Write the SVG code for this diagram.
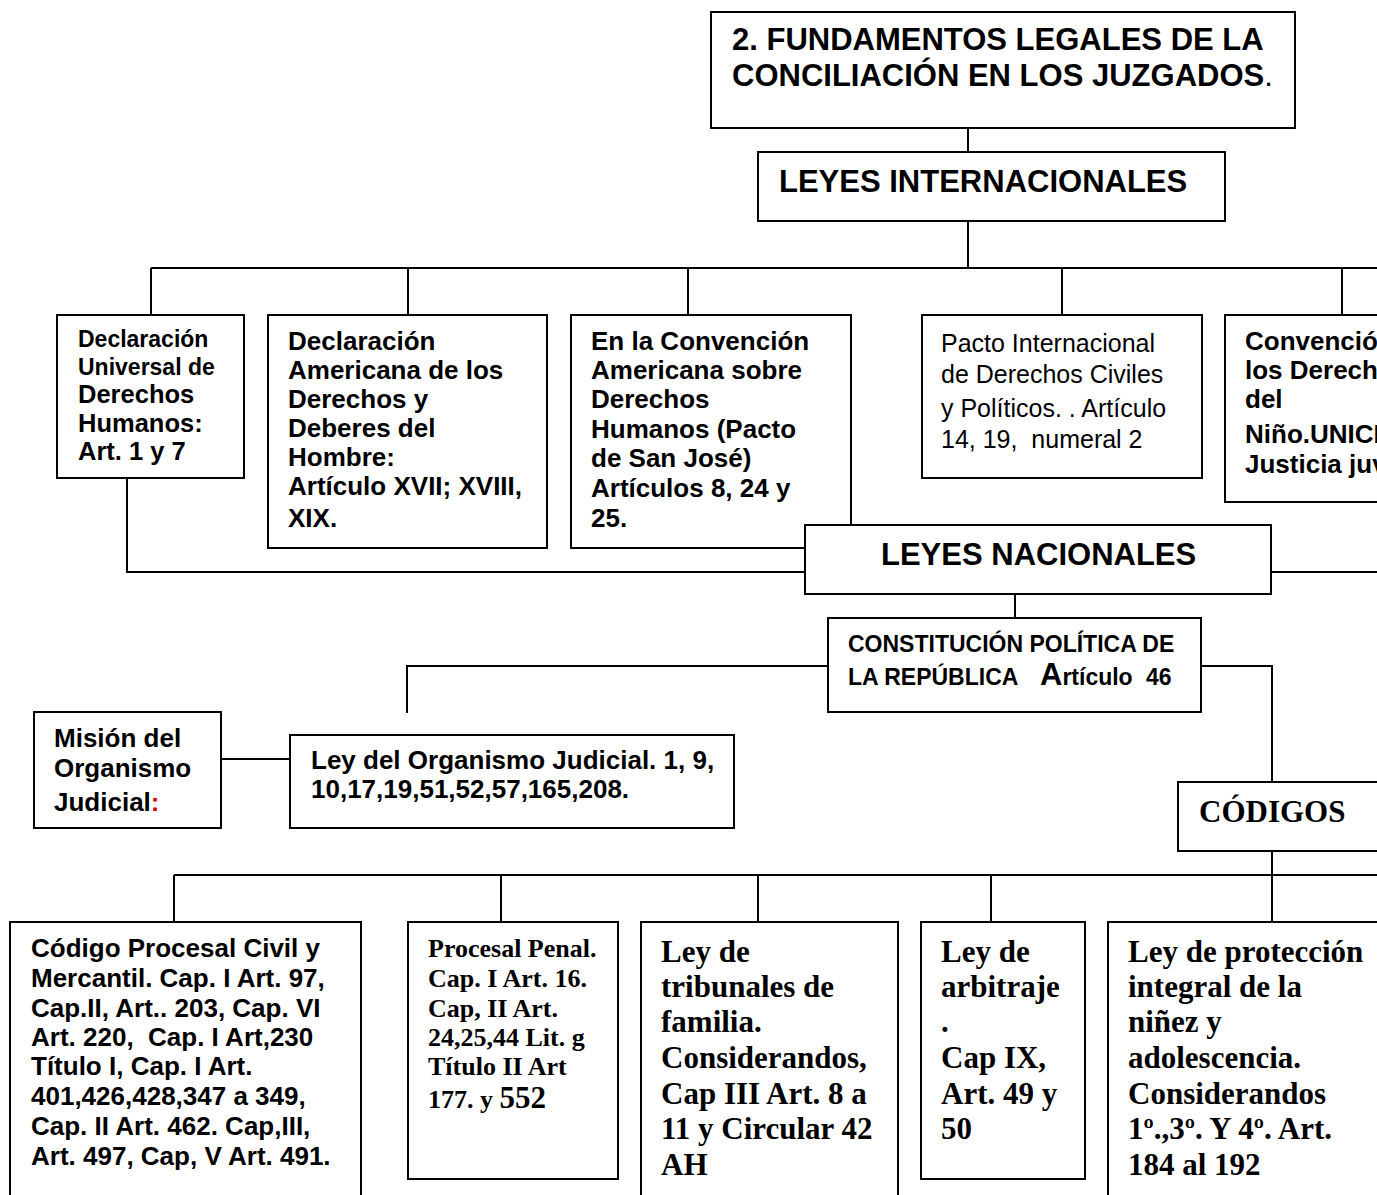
<svg xmlns="http://www.w3.org/2000/svg" width="1377" height="1195" viewBox="0 0 1377 1195">
<style>
text{white-space:pre}
.box{fill:#fff;stroke:#000;stroke-width:2}
.ln{fill:none;stroke:#000;stroke-width:2}
.sb{font-family:"Liberation Sans",Arial,sans-serif;font-weight:bold;fill:#000}
.sr{font-family:"Liberation Sans",Arial,sans-serif;font-weight:normal;fill:#000}
.tb{font-family:"Liberation Serif","Times New Roman",serif;font-weight:bold;fill:#000}
</style>
<rect x="0" y="0" width="1377" height="1195" fill="#fff"/>
<g id="connectors">
<path class="ln" d="M968 128V152"/>
<path class="ln" d="M968 221V268"/>
<path class="ln" d="M151 268H1377"/>
<path class="ln" d="M151 268V315M408 268V315M688 268V315M1062 268V315M1342 268V315"/>
<path class="ln" d="M127 478V572H805"/>
<path class="ln" d="M1271 572H1377"/>
<path class="ln" d="M1015 594V618"/>
<path class="ln" d="M828 666H407V713"/>
<path class="ln" d="M1201 666H1272V782"/>
<path class="ln" d="M221 759H290"/>
<path class="ln" d="M1272 851V875"/>
<path class="ln" d="M174 875H1377"/>
<path class="ln" d="M174 875V922M501 875V922M758 875V922M991 875V922M1272 875V922"/>
</g>
<g id="title">
<rect class="box" x="711" y="12" width="584" height="116"/>
<text class="sb" font-size="31" x="732" y="50">2. FUNDAMENTOS LEGALES DE LA</text>
<text class="sb" font-size="31" x="732" y="86">CONCILIACIÓN EN LOS JUZGADOS<tspan font-weight="normal">.</tspan></text>
</g>
<g id="leyes-internacionales">
<rect class="box" x="758" y="152" width="467" height="69"/>
<text class="sb" font-size="31" x="779" y="192">LEYES INTERNACIONALES</text>
</g>
<g id="declaracion-universal">
<rect class="box" x="57" y="315" width="187" height="163"/>
<text class="sb" font-size="23" x="78"><tspan x="78" y="347">Declaración</tspan><tspan x="78" y="375">Universal de</tspan><tspan x="78" y="403" font-size="25.5">Derechos</tspan><tspan x="78" y="432" font-size="25.5">Humanos:</tspan><tspan x="78" y="460" font-size="25.5">Art. 1 y 7</tspan></text>
</g>
<g id="declaracion-americana">
<rect class="box" x="268" y="315" width="279" height="233"/>
<text class="sb" font-size="26"><tspan x="288" y="350">Declaración</tspan><tspan x="288" y="379">Americana de los</tspan><tspan x="288" y="408">Derechos y</tspan><tspan x="288" y="437">Deberes del</tspan><tspan x="288" y="466">Hombre:</tspan><tspan x="288" y="495">Artículo XVII; XVIII,</tspan><tspan x="288" y="527">XIX.</tspan></text>
</g>
<g id="convencion-americana">
<rect class="box" x="571" y="315" width="280" height="233"/>
<text class="sb" font-size="26"><tspan x="591" y="350">En la Convención</tspan><tspan x="591" y="379">Americana sobre</tspan><tspan x="591" y="408">Derechos</tspan><tspan x="591" y="438">Humanos (Pacto</tspan><tspan x="591" y="467">de San José)</tspan><tspan x="591" y="497">Artículos 8, 24 y</tspan><tspan x="591" y="527">25.</tspan></text>
</g>
<g id="pacto-internacional">
<rect class="box" x="922" y="315" width="280" height="163"/>
<text class="sr" font-size="25"><tspan x="941" y="352">Pacto Internacional</tspan><tspan x="941" y="383">de Derechos Civiles</tspan><tspan x="941" y="417">y Políticos. . Artículo</tspan><tspan x="941" y="448">14, 19,  numeral 2</tspan></text>
</g>
<g id="convencion-nino">
<rect class="box" x="1225" y="315" width="200" height="187"/>
<text class="sb" font-size="26"><tspan x="1245" y="350">Convención</tspan><tspan x="1245" y="379">los Derechos</tspan><tspan x="1245" y="408">del</tspan><tspan x="1245" y="443">Niño.UNICEF</tspan><tspan x="1245" y="473">Justicia juvenil</tspan></text>
</g>
<g id="leyes-nacionales">
<rect class="box" x="805" y="525" width="466" height="69"/>
<text class="sb" font-size="31" x="881" y="565">LEYES NACIONALES</text>
</g>
<g id="constitucion">
<rect class="box" x="828" y="618" width="373" height="94"/>
<text class="sb" font-size="23" x="848" y="652">CONSTITUCIÓN POLÍTICA DE</text>
<text class="sb" font-size="23" x="848" y="685">LA REPÚBLICA  <tspan x="1040" font-size="31">A</tspan><tspan>rtículo</tspan><tspan x="1146">46</tspan></text>
</g>
<g id="mision">
<rect class="box" x="34" y="712" width="187" height="116"/>
<text class="sb" font-size="26"><tspan x="54" y="747">Misión del</tspan><tspan x="54" y="777">Organismo</tspan><tspan x="54" y="811">Judicial<tspan fill="#e00000">:</tspan></tspan></text>
</g>
<g id="ley-organismo">
<rect class="box" x="290" y="735" width="444" height="93"/>
<text class="sb" font-size="26"><tspan x="311" y="769">Ley del Organismo Judicial. 1, 9,</tspan><tspan x="311" y="798">10,17,19,51,52,57,165,208.</tspan></text>
</g>
<g id="codigos">
<rect class="box" x="1178" y="782" width="240" height="69"/>
<text class="tb" font-size="31" x="1199" y="822">CÓDIGOS</text>
</g>
<g id="codigo-procesal-civil">
<rect class="box" x="10" y="922" width="351" height="290"/>
<text class="sb" font-size="26"><tspan x="31" y="957">Código Procesal Civil y</tspan><tspan x="31" y="987">Mercantil. Cap. I Art. 97,</tspan><tspan x="31" y="1017">Cap.II, Art.. 203, Cap. VI</tspan><tspan x="31" y="1046">Art. 220,  Cap. I Art,230</tspan><tspan x="31" y="1075">Título I, Cap. I Art.</tspan><tspan x="31" y="1105">401,426,428,347 a 349,</tspan><tspan x="31" y="1135">Cap. II Art. 462. Cap,III,</tspan><tspan x="31" y="1165">Art. 497, Cap, V Art. 491.</tspan></text>
</g>
<g id="procesal-penal">
<rect class="box" x="408" y="922" width="210" height="257"/>
<text class="tb" font-size="26"><tspan x="428" y="957">Procesal Penal.</tspan><tspan x="428" y="987">Cap. I Art. 16.</tspan><tspan x="428" y="1017">Cap, II Art.</tspan><tspan x="428" y="1046">24,25,44 Lit. g</tspan><tspan x="428" y="1075">Título II Art</tspan><tspan x="428" y="1108">177. y <tspan font-size="31">552</tspan></tspan></text>
</g>
<g id="tribunales-familia">
<rect class="box" x="641" y="922" width="257" height="290"/>
<text class="tb" font-size="31"><tspan x="661" y="962">Ley de</tspan><tspan x="661" y="997">tribunales de</tspan><tspan x="661" y="1032">familia.</tspan><tspan x="661" y="1068">Considerandos,</tspan><tspan x="661" y="1104">Cap III Art. 8 a</tspan><tspan x="661" y="1139">11 y Circular 42</tspan><tspan x="661" y="1175">AH</tspan></text>
</g>
<g id="arbitraje">
<rect class="box" x="921" y="922" width="164" height="257"/>
<text class="tb" font-size="31"><tspan x="941" y="962">Ley de</tspan><tspan x="941" y="997">arbitraje</tspan><tspan x="941" y="1032">.</tspan><tspan x="941" y="1068">Cap IX,</tspan><tspan x="941" y="1104">Art. 49 y</tspan><tspan x="941" y="1139">50</tspan></text>
</g>
<g id="proteccion-ninez">
<rect class="box" x="1108" y="922" width="300" height="290"/>
<text class="tb" font-size="31"><tspan x="1128" y="962">Ley de protección</tspan><tspan x="1128" y="997">integral de la</tspan><tspan x="1128" y="1032">niñez y</tspan><tspan x="1128" y="1068">adolescencia.</tspan><tspan x="1128" y="1104">Considerandos</tspan><tspan x="1128" y="1139">1º.,3º. Y 4º. Art.</tspan><tspan x="1128" y="1175">184 al 192</tspan></text>
</g>
</svg>
